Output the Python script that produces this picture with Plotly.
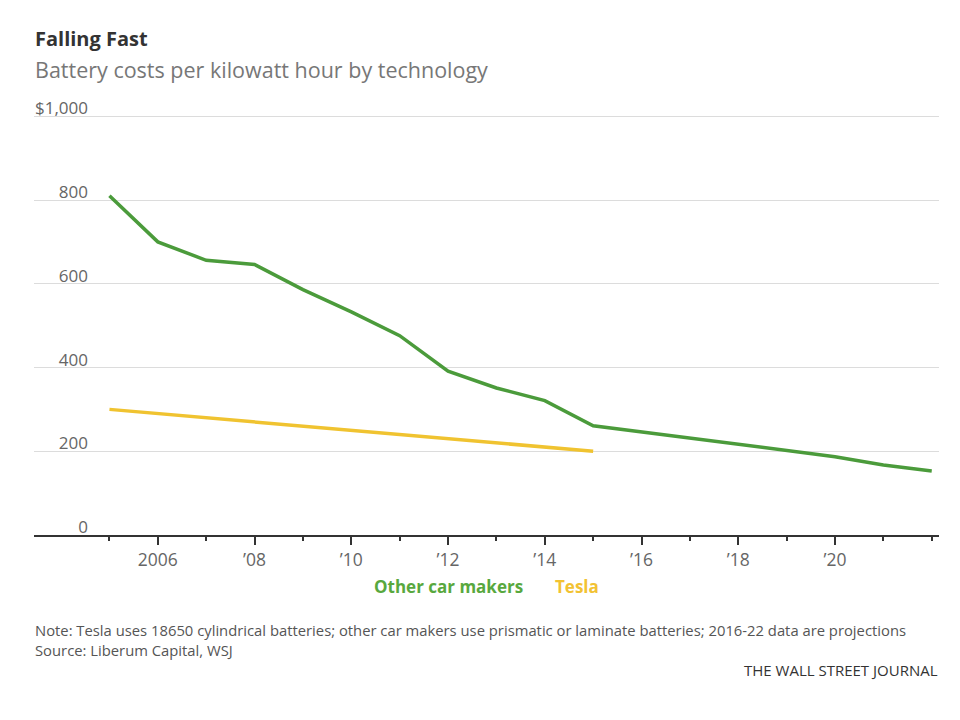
import plotly.graph_objects as go

# Battery cost per kWh
years_other = list(range(2005, 2023))
cost_other = [810, 700, 656, 646, 586, 533, 476, 391, 351, 321, 261, 246, 232, 218, 203, 187, 167, 153]

years_tesla = [2005, 2015]
cost_tesla = [300, 200]

series_names = ["Other car makers", "Tesla"]
line_colors = ["#4b9b3b", "#f0c330"]
label_colors = ["#58a83e", "#f2c233"]

x_tickvals = [2006, 2008, 2010, 2012, 2014, 2016, 2018, 2020]
x_ticktext = ["2006", "\u201908", "\u201910", "\u201912", "\u201914", "\u201916", "\u201918", "\u201920"]
x_minorvals = [2005, 2007, 2009, 2011, 2013, 2015, 2017, 2019, 2021, 2022]

y_tickvals = [0, 200, 400, 600, 800, 1000]
y_ticktext = ["0", "200", "400", "600", "800", "$1,000"]

font = "Open Sans"

fig = go.Figure()

fig.add_trace(go.Scatter(
    x=years_other, y=cost_other, mode="lines", name=series_names[0],
    line=dict(color=line_colors[0], width=3.5), showlegend=False
))
fig.add_trace(go.Scatter(
    x=years_tesla, y=cost_tesla, mode="lines", name=series_names[1],
    line=dict(color=line_colors[1], width=3.5), showlegend=False
))

fig.update_xaxes(
    range=[2003.44, 2022.15],
    showgrid=False, zeroline=False,
    showline=True, linecolor="#333333", linewidth=2,
    ticks="outside", ticklen=8, tickwidth=1.5, tickcolor="#333333",
    tickvals=x_tickvals, ticktext=x_ticktext,
    tickfont=dict(family=font, size=17.5, color="#666666"),
    minor=dict(tickvals=x_minorvals, ticks="outside", ticklen=4,
               tickwidth=1.5, tickcolor="#333333", showgrid=False),
)

fig.update_yaxes(
    range=[0, 1003],
    anchor="free", position=(88 - 34) / 905,
    showline=False, zeroline=False,
    showgrid=True, gridcolor="#dcdcdc", gridwidth=1,
    ticks="", tickvals=y_tickvals, ticktext=y_ticktext,
    ticklabelposition="outside top", ticklabelshift=4,
    tickfont=dict(family=font, size=17, color="#666666"),
)


def py(pix):
    # convert a screenshot row to paper y (plot area spans rows 115..535)
    return (535 - pix) / 420


def px(pix):
    return (pix - 34) / 905


notes = [
    dict(text="<b>Falling Fast</b>", x=px(33), y=py(39), size=20, color="#333333", anchor="left"),
    dict(text="Battery costs per kilowatt hour by technology", x=px(33), y=py(70), size=21.5, color="#777777", anchor="left"),
    dict(text="<b>" + series_names[0] + "</b>", x=px(372), y=py(586), size=17, color=label_colors[0], anchor="left"),
    dict(text="<b>" + series_names[1] + "</b>", x=px(553), y=py(586), size=17, color=label_colors[1], anchor="left"),
    dict(text="Note: Tesla uses 18650 cylindrical batteries; other car makers use prismatic or laminate batteries; 2016-22 data are projections",
         x=px(33), y=py(630), size=14.8, color="#555555", anchor="left"),
    dict(text="Source: Liberum Capital, WSJ", x=px(33), y=py(650), size=14.8, color="#555555", anchor="left"),
    dict(text="THE WALL STREET JOURNAL", x=px(940), y=py(670), size=15, color="#333333", anchor="right"),
]

for n in notes:
    fig.add_annotation(
        text=n["text"], x=n["x"], y=n["y"], xref="paper", yref="paper",
        xanchor=n["anchor"], yanchor="middle", showarrow=False,
        font=dict(family=font, size=n["size"], color=n["color"]),
    )

# the page body adds 8px of offset, so margins are 8px smaller than target
fig.update_layout(
    width=960, height=720,
    margin=dict(l=26, r=29, t=107, b=193),
    paper_bgcolor="white", plot_bgcolor="white",
    font=dict(family=font),
)

fig.write_html("out.html")
